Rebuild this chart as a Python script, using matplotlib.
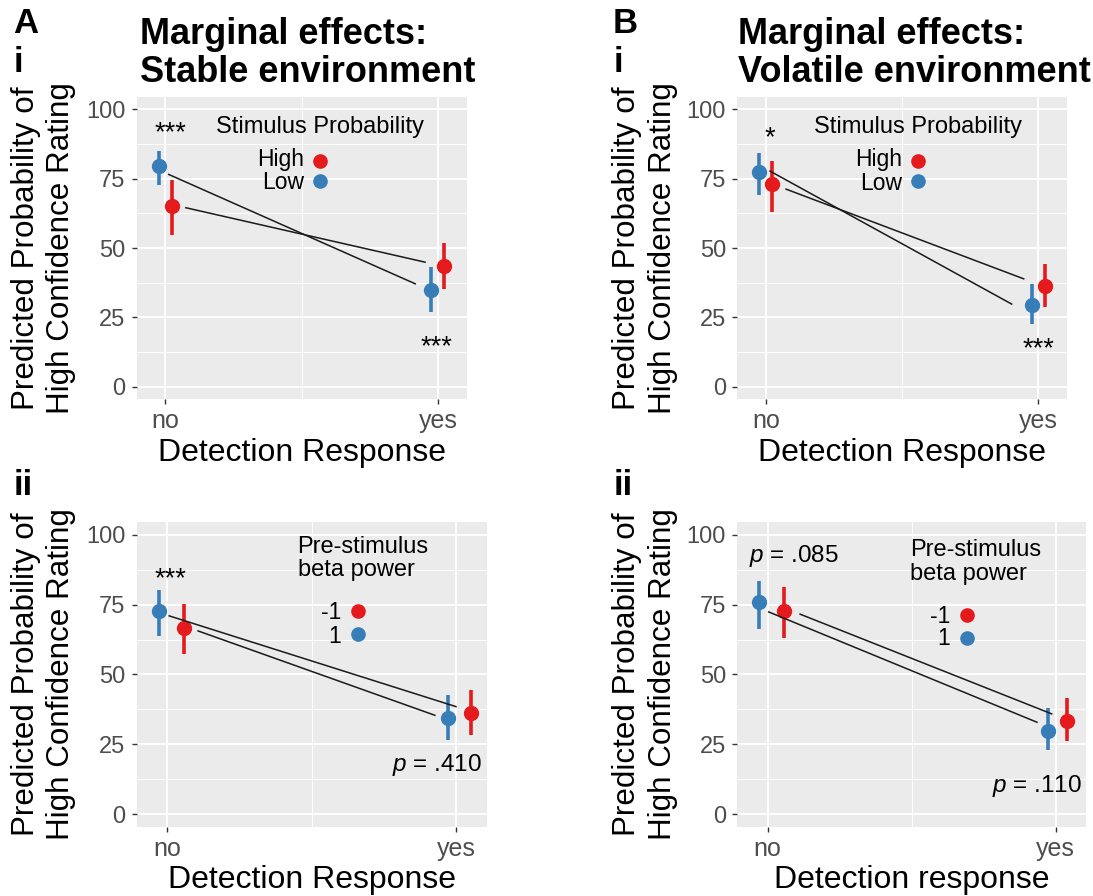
import matplotlib
matplotlib.use('Agg')
import matplotlib.pyplot as plt
from matplotlib.ticker import FixedLocator, MultipleLocator

plt.rcParams['font.family'] = ['Liberation Sans', 'DejaVu Sans']
plt.rcParams['mathtext.fontset'] = 'custom'
plt.rcParams['mathtext.rm'] = 'Liberation Sans'
plt.rcParams['mathtext.it'] = 'Liberation Sans:italic'

responses = ['no', 'yes']

# A-i  stable environment, stimulus probability
stable_high = [65.1, 43.5]
stable_high_lo = [54.7, 35.4]
stable_high_hi = [74.5, 51.7]
stable_low = [79.6, 34.8]
stable_low_lo = [72.6, 26.9]
stable_low_hi = [85.0, 43.3]
stable_fit1 = [76.5, 37.1]
stable_fit2 = [64.5, 44.9]

# B-i  volatile environment, stimulus probability
volatile_high = [72.9, 36.4]
volatile_high_lo = [62.8, 28.8]
volatile_high_hi = [81.3, 44.4]
volatile_low = [77.4, 29.4]
volatile_low_lo = [69.0, 22.5]
volatile_low_hi = [84.2, 37.2]
volatile_fit1 = [77.7, 29.8]
volatile_fit2 = [71.2, 38.9]

# A-ii  stable environment, pre-stimulus beta power
stable_beta_neg = [66.5, 36.1]
stable_beta_neg_lo = [57.4, 28.2]
stable_beta_neg_hi = [75.1, 44.5]
stable_beta_pos = [72.6, 34.5]
stable_beta_pos_lo = [63.8, 26.7]
stable_beta_pos_hi = [80.3, 42.8]
stable_beta_fit1 = [71.0, 38.5]
stable_beta_fit2 = [65.6, 35.4]

# B-ii  volatile environment, pre-stimulus beta power
volatile_beta_neg = [72.8, 33.4]
volatile_beta_neg_lo = [62.9, 26.2]
volatile_beta_neg_hi = [81.2, 41.5]
volatile_beta_pos = [75.8, 29.8]
volatile_beta_pos_lo = [66.2, 22.9]
volatile_beta_pos_hi = [83.6, 37.9]
volatile_beta_fit1 = [72.4, 32.9]
volatile_beta_fit2 = [71.6, 35.9]

RED = '#E41A1C'
BLUE = '#377EB8'
W, H = 1093, 896

fig = plt.figure(figsize=(W / 100, H / 100), dpi=100)


def add_panel(l, t, r, b):
    ax = fig.add_axes([l / W, 1 - b / H, (r - l) / W, (b - t) / H])
    ax.set_facecolor('#EBEBEB')
    for s in ax.spines.values():
        s.set_visible(False)
    ax.set_xlim(0.895, 2.105)
    ax.set_ylim(-4.5, 104.5)
    ax.set_xticks([1, 2], responses)
    ax.set_yticks([0, 25, 50, 75, 100])
    ax.xaxis.set_minor_locator(FixedLocator([1.5]))
    ax.yaxis.set_minor_locator(MultipleLocator(12.5))
    ax.grid(which='major', color='white', lw=1.3)
    ax.grid(which='minor', color='white', lw=0.65)
    ax.set_axisbelow(True)
    ax.tick_params(which='minor', length=0)
    ax.tick_params(which='major', length=3.6, width=1.0, color='#333333',
                   labelcolor='#4D4D4D', pad=4.5)
    ax.tick_params(axis='y', labelsize=17)
    ax.tick_params(axis='x', labelsize=18, pad=3.5)
    return ax


def draw_group(ax, vals, lo, hi, offs, color):
    x = [i + 1 + d for i, d in enumerate(offs)]
    err = [[v - a for v, a in zip(vals, lo)], [b - v for v, b in zip(vals, hi)]]
    ax.errorbar(x, vals, yerr=err, fmt='o', color=color, ms=10,
                elinewidth=2.6, capsize=0, zorder=3)


def draw_fit(ax, vals, xs):
    ax.plot(xs, vals, color='#1A1A1A', lw=1.1, zorder=4)


def draw_key(ax, title, tx, ty, labels, colors, kx, ky, ly):
    for line, y in zip(title, ty):
        ax.text(tx, y, line, fontsize=17, ha='left', va='baseline')
    for lab, col, yk, yl in zip(labels, colors, ky, ly):
        ax.text(kx - 0.058, yl, lab, fontsize=16.5, ha='right', va='baseline')
        ax.plot([kx], [yk], 'o', color=col, ms=9.5, zorder=5)


def star(ax, x, y, s, ha='center', size=19.5):
    ax.text(x, y, s, fontsize=size, ha=ha, va='baseline')


# ---- A-i
ax = add_panel(136.8, 96.7, 466.8, 399.3)
draw_group(ax, stable_low, stable_low_lo, stable_low_hi, [-0.024, -0.026], BLUE)
draw_group(ax, stable_high, stable_high_lo, stable_high_hi, [0.024, 0.023], RED)
draw_fit(ax, stable_fit1, [1.012, 1.916])
draw_fit(ax, stable_fit2, [1.075, 1.952])
draw_key(ax, ['Stimulus Probability'], 1.184, [91.6], ['High', 'Low'],
         [RED, BLUE], 1.566, [81.4, 74.2], [79.6, 71.1])
star(ax, 1.017, 88.9, '***')
star(ax, 1.994, 11.6, '***')

# ---- B-i
ax = add_panel(737.3, 96.7, 1067.0, 399.3)
draw_group(ax, volatile_low, volatile_low_lo, volatile_low_hi, [-0.027, -0.025], BLUE)
draw_group(ax, volatile_high, volatile_high_lo, volatile_high_hi, [0.023, 0.025], RED)
draw_fit(ax, volatile_fit1, [1.015, 1.902])
draw_fit(ax, volatile_fit2, [1.074, 1.946])
draw_key(ax, ['Stimulus Probability'], 1.175, [91.5], ['High', 'Low'],
         [RED, BLUE], 1.557, [81.4, 74.2], [79.5, 71.0])
star(ax, 1.013, 87.1, '*')
star(ax, 2.0, 11.1, '***')

# ---- A-ii
ax = add_panel(136.8, 522.3, 486.6, 826.7)
draw_group(ax, stable_beta_pos, stable_beta_pos_lo, stable_beta_pos_hi, [-0.029, -0.027], BLUE)
draw_group(ax, stable_beta_neg, stable_beta_neg_lo, stable_beta_neg_hi, [0.057, 0.05], RED)
draw_fit(ax, stable_beta_fit1, [1.007, 1.999])
draw_fit(ax, stable_beta_fit2, [1.107, 1.926])
draw_key(ax, ['Pre-stimulus', 'beta power'], 1.451, [93.6, 85.2], ['-1', '1'],
         [RED, BLUE], 1.660, [72.6, 64.4], [69.8, 61.4])
star(ax, 1.012, 81.5, '***')
star(ax, 2.089, 15.6, '$p$ = .410', ha='right', size=17.5)

# ---- B-ii
ax = add_panel(737.3, 522.3, 1086.0, 826.7)
draw_group(ax, volatile_beta_pos, volatile_beta_pos_lo, volatile_beta_pos_hi, [-0.030, -0.027], BLUE)
draw_group(ax, volatile_beta_neg, volatile_beta_neg_lo, volatile_beta_neg_hi, [0.058, 0.038], RED)
draw_fit(ax, volatile_beta_fit1, [1.004, 1.935])
draw_fit(ax, volatile_beta_fit2, [1.113, 1.986])
draw_key(ax, ['Pre-stimulus', 'beta power'], 1.493, [92.4, 84.0], ['-1', '1'],
         [RED, BLUE], 1.691, [71.4, 63.0], [68.6, 60.4])
star(ax, 0.934, 90.3, '$p$ = .085', ha='left', size=17.5)
star(ax, 2.093, 8.05, '$p$ = .110', ha='right', size=17.5)


# ---- figure-level text
def ftext(x, y, s, **kw):
    fig.text(x / W, 1 - y / H, s, **kw)


for x0, letter in [(13, 'A'), (613, 'B')]:
    ftext(x0, 33, letter, fontsize=25, fontweight='bold', va='baseline')
    ftext(x0 + 1, 72, 'i', fontsize=25, fontweight='bold', va='baseline')
    ftext(x0 + 1, 495, 'ii', fontsize=25, fontweight='bold', va='baseline')

for x0, env in [(139.5, 'Stable environment'), (737.5, 'Volatile environment')]:
    ftext(x0, 43.5, 'Marginal effects:', fontsize=26, fontweight='bold', va='baseline')
    ftext(x0, 81.7, env, fontsize=26, fontweight='bold', va='baseline')

for xc1, xc2, yc in [(26.3, 61.4, 248), (627, 662.8, 248),
                     (26.3, 61.4, 674.5), (627, 662.8, 674.5)]:
    ftext(xc1, yc, 'Predicted Probability of', fontsize=22.6, rotation=90,
          ha='center', va='center')
    ftext(xc2, yc, 'High Confidence Rating', fontsize=22.6, rotation=90,
          ha='center', va='center')

ftext((136.8 + 466.8) / 2, 461, 'Detection Response', fontsize=23, ha='center', va='baseline')
ftext((737.3 + 1067.0) / 2, 461, 'Detection Response', fontsize=23, ha='center', va='baseline')
ftext((136.8 + 486.6) / 2, 888, 'Detection Response', fontsize=23, ha='center', va='baseline')
ftext((737.3 + 1086.0) / 2, 888, 'Detection response', fontsize=23, ha='center', va='baseline')

fig.savefig('out.png', dpi=100)
